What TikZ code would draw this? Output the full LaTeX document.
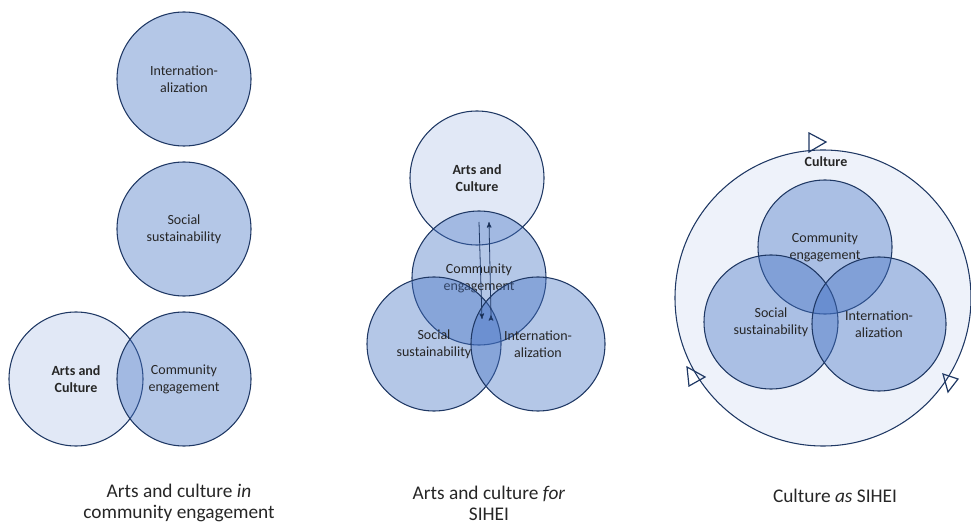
\documentclass[tikz,border=0pt]{standalone}
\usepackage{fontspec}
\setmainfont{Carlito}
\usetikzlibrary{arrows, positioning}

\definecolor{navy}{HTML}{1F3864}
\definecolor{accent}{HTML}{4472C4}
\definecolor{ink}{HTML}{262626}

\begin{document}
\begin{tikzpicture}[x=0.75pt, y=-0.75pt, >=stealth',
	topic/.style={circle, draw=navy, line width=0.8pt, fill=accent, fill opacity=0.4, text opacity=1, text=ink,
		minimum size=100.5pt, inner sep=0pt, align=center, font=\fontsize{10.5}{12.75}\selectfont},
	arts/.style={topic, fill opacity=0.16, font=\fontsize{10.5}{12.75}\selectfont\bfseries},
	caption/.style={align=center, text=ink, font=\fontsize{14.5}{15.75}\selectfont}]
	
	\useasboundingbox (0,0) rectangle (971,527);
	
	% culture in community engagement
	\node[topic] (intl1) at (184,79) {Internation-\\alization};
	\node[topic] (soc1) at (184,229) {Social\\sustainability};
	\node[arts] (arts1) at (76,379) {Arts and\\Culture};
	\node[topic] (ce1) at (184,379) {Community\\engagement};
	\node[caption] (cap1) at (179,503) {Arts and culture \textit{in}\\community engagement};
	
	% culture for SIHEI
	\node[arts] (arts2) at (477,178) {Arts and\\Culture};
	\node[topic] (ce2) at (479,278) {Community\\engagement};
	\node[topic] (soc2) at (434,344) {Social\\sustainability};
	\node[topic] (intl2) at (538,344) {Internation-\\alization};
	\node[caption] (cap2) at (489,503) {Arts and culture \textit{for}\\SIHEI};
	
	\coordinate (dn1) at (479,222);
	\coordinate (dn2) at (482,319);
	\coordinate (up1) at (491,315);
	\coordinate (up2) at (489,222);
	\path[->, draw=navy, line width=0.6pt]
	(dn1) edge (dn2)
	(up1) edge (up2);
	
	% culture as SIHEI
	\node[circle, draw=navy, line width=0.8pt, fill=accent, fill opacity=0.09, minimum size=222pt, inner sep=0pt] (cult) at (823,298) {};
	\node[text=ink, font=\fontsize{10.5}{12.75}\selectfont\bfseries] (cultname) at (826,162) {Culture};
	\node[topic] (ce3) at (825,247) {Community\\engagement};
	\node[topic] (soc3) at (771,322) {Social\\sustainability};
	\node[topic] (intl3) at (879,324) {Internation-\\alization};
	\node[caption] (cap3) at (835,496) {Culture \textit{as} SIHEI};
	
	% open heads on the outer ring
	\draw[navy, line width=0.9pt, line join=miter] (809,133) -- (826,142) -- (809,152) -- cycle;
	\draw[navy, line width=0.9pt, line join=miter] (687,367) -- (705,377) -- (689,386) -- cycle;
	\draw[navy, line width=0.9pt, line join=miter] (943,374) -- (958,379) -- (948,392) -- cycle;
	
\end{tikzpicture}
\end{document}
